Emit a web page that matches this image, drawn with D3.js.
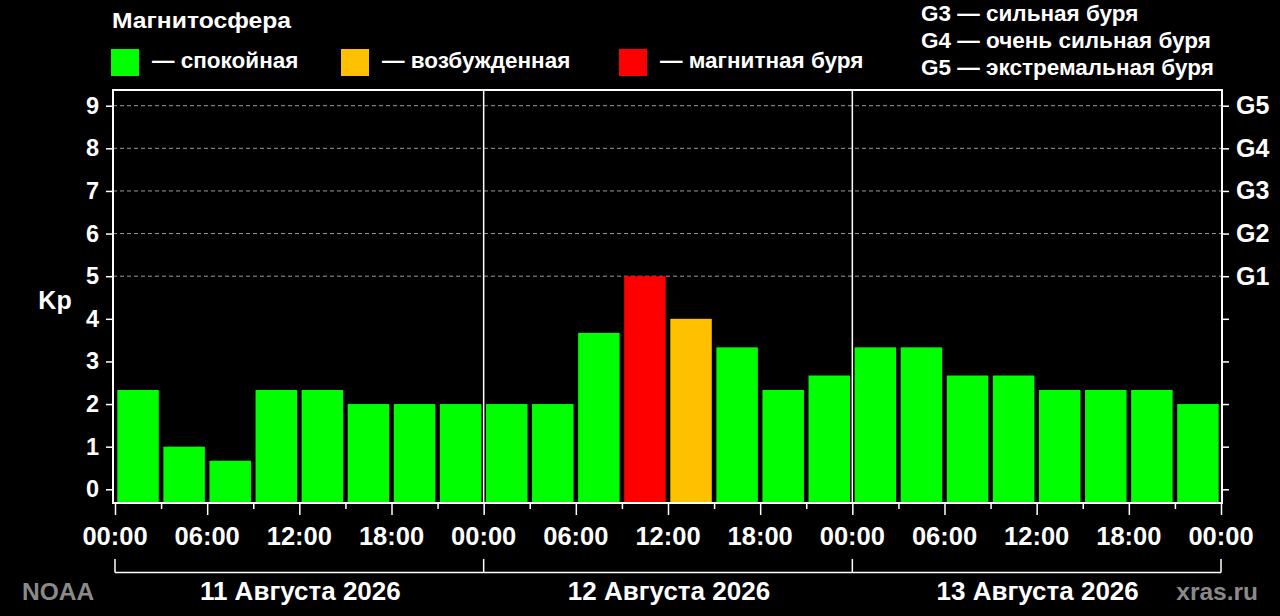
<!DOCTYPE html>
<html><head><meta charset="utf-8">
<script src="https://cdn.jsdelivr.net/npm/d3@7"></script>
<style>
html,body{margin:0;padding:0;background:#000;}
svg{display:block;}
text{font-family:"Liberation Sans",Arial,sans-serif;font-weight:bold;fill:#fff;}
</style></head>
<body>
<svg id="c" width="1280" height="616"></svg>
<script>
// ---- data ----
const days = ["11 Августа 2026", "12 Августа 2026", "13 Августа 2026"];
const hours = [0,3,6,9,12,15,18,21,24,27,30,33,36,39,42,45,48,51,54,57,60,63,66,69];
const kp = [2.33,1.0,0.67,2.33,2.33,2.0,2.0,2.0,
            2.0,2.0,3.67,5.0,4.0,3.33,2.33,2.67,
            3.33,3.33,2.67,2.67,2.33,2.33,2.33,2.0];
const status = ["q","q","q","q","q","q","q","q",
                "q","q","q","s","a","q","q","q",
                "q","q","q","q","q","q","q","q"];
const kpTicks = [0,1,2,3,4,5,6,7,8,9];
const gLabels = ["","","","","","G1","G2","G3","G4","G5"];
const timeTicks = [0,6,12,18,24,30,36,42,48,54,60,66,72];
const timeLabels = ["00:00","06:00","12:00","18:00","00:00","06:00","12:00","18:00","00:00","06:00","12:00","18:00","00:00"];
const legendItems = [{k:"q",t:"— спокойная"},{k:"a",t:"— возбужденная"},{k:"s",t:"— магнитная буря"}];
const gScale = ["G3 — сильная буря","G4 — очень сильная буря","G5 — экстремальная буря"];
const colors = {q:"#00ff00", a:"#ffc000", s:"#ff0000"};

const svg = d3.select("#c");
svg.append("rect").attr("width",1280).attr("height",616).attr("fill","#000");

const x = d3.scaleLinear().domain([0,72]).range([115,1221]);
const y = d3.scaleLinear().domain([0,9]).range([489.3,105.7]);
const pTop = 90, pBottom = 503, pLeft = 113, pRight = 1222;

// gridlines
svg.append("g").selectAll("line").data(kpTicks.filter(d=>d>=5)).join("line")
  .attr("x1",pLeft).attr("x2",pRight).attr("y1",d=>y(d)).attr("y2",d=>y(d))
  .attr("stroke","#9a9a9a").attr("stroke-width",1).attr("stroke-dasharray","4,3");

// bars
svg.append("g").selectAll("rect").data(hours).join("rect")
  .attr("x",(d)=>x(d)+2.3)
  .attr("width",(d)=>x(d+3)-x(d)-4.6)
  .attr("y",(d,i)=>y(kp[i]))
  .attr("height",(d,i)=>pBottom-y(kp[i]))
  .attr("fill",(d,i)=>colors[status[i]]);

// day separators
svg.append("g").selectAll("line").data([24,48]).join("line")
  .attr("x1",d=>x(d)).attr("x2",d=>x(d)).attr("y1",pTop).attr("y2",pBottom)
  .attr("stroke","#fff").attr("stroke-width",1.5);

// frame
svg.append("rect").attr("x",pLeft).attr("y",pTop).attr("width",pRight-pLeft).attr("height",pBottom-pTop)
  .attr("fill","none").attr("stroke","#fff").attr("stroke-width",2);

// left axis
const ya = d3.axisLeft(y).tickValues(kpTicks).tickSize(7).tickPadding(7).tickFormat(d3.format("d"));
const gl = svg.append("g").attr("transform",`translate(${pLeft},0)`).call(ya);
gl.select(".domain").remove();
gl.selectAll(".tick line").attr("stroke","#fff").attr("stroke-width",1.5);
gl.selectAll(".tick text").attr("font-size",23.5).attr("fill","#fff").attr("font-family",null);

// right axis
const yr = d3.axisRight(y).tickValues(kpTicks).tickSize(7).tickPadding(7).tickFormat((d)=>gLabels[d]);
const gr = svg.append("g").attr("transform",`translate(${pRight},0)`).call(yr);
gr.select(".domain").remove();
gr.selectAll(".tick line").attr("stroke","#fff").attr("stroke-width",1.5);
gr.selectAll(".tick text").attr("font-size",25).attr("fill","#fff").attr("font-family",null);

// bottom axis: minor ticks every 3h, major every 6h
const xa = d3.axisBottom(x).tickValues(d3.range(0,73,3)).tickSize(6).tickFormat("");
const gb = svg.append("g").attr("transform",`translate(0,${pBottom})`).call(xa);
gb.select(".domain").remove();
gb.selectAll(".tick line").attr("stroke","#fff").attr("stroke-width",1.5)
  .attr("y2",d=>d%6===0?12:6);
svg.append("g").selectAll("text").data(timeTicks).join("text")
  .attr("x",d=>x(d)).attr("y",544.5).attr("text-anchor","middle")
  .attr("font-size",25.5).text((d,i)=>timeLabels[i]);

// day brackets
const br = svg.append("g");
br.append("line").attr("x1",x(0)).attr("x2",x(72)).attr("y1",572.5).attr("y2",572.5).attr("stroke","#fff").attr("stroke-width",1.5);
br.selectAll("line.t").data([0,24,48,72]).join("line").attr("class","t")
  .attr("x1",d=>x(d)).attr("x2",d=>x(d)).attr("y1",559).attr("y2",572.5).attr("stroke","#fff").attr("stroke-width",1.5);
br.selectAll("text").data(days).join("text")
  .attr("x",(d,i)=>x(i*24+12)+1).attr("y",599.5).attr("text-anchor","middle")
  .attr("font-size",26).text(d=>d);

// Kp label
svg.append("text").attr("x",55).attr("y",309).attr("text-anchor","middle").attr("font-size",25).text("Kp");

// watermarks
svg.append("text").attr("x",22).attr("y",599.5).attr("font-size",24.5).style("fill","#8a8a8a").text("NOAA");
svg.append("text").attr("x",1258).attr("y",599.5).attr("text-anchor","end").attr("font-size",24.5).style("fill","#8a8a8a").text("xras.ru");

// legend
svg.append("text").attr("x",112).attr("y",27.5).attr("font-size",22.5)
  .attr("textLength",179).attr("lengthAdjust","spacingAndGlyphs").text("Магнитосфера");
const lx = [111,341,619];
const lg = svg.append("g").selectAll("g").data(legendItems).join("g")
  .attr("transform",(d,i)=>`translate(${lx[i]},49)`);
lg.append("rect").attr("width",28).attr("height",27).attr("fill",d=>colors[d.k]);
lg.append("text").attr("x",41).attr("y",18.5).attr("font-size",22.5).text(d=>d.t);

// G scale
svg.append("g").selectAll("text").data(gScale).join("text")
  .attr("x",921).attr("y",(d,i)=>21+i*27).attr("font-size",22.5).text(d=>d);
</script>
</body></html>
